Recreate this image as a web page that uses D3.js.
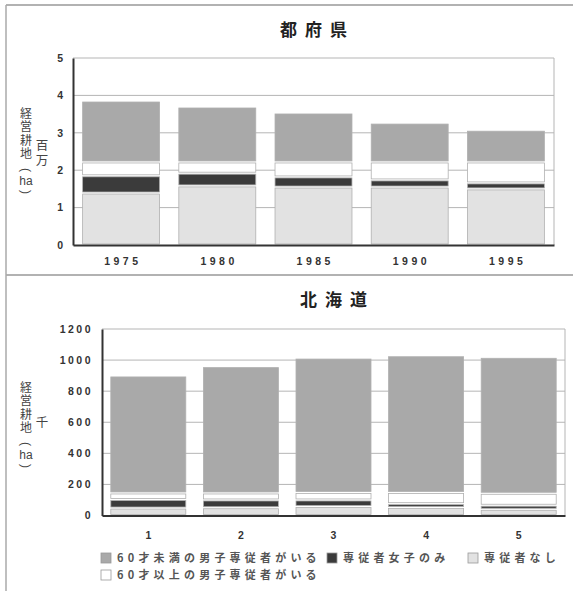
<!DOCTYPE html>
<html>
<head>
<meta charset="utf-8">
<script src="https://cdn.jsdelivr.net/npm/d3@7"></script>
<style>
  body { margin: 0; background: #fff; }
  svg { display: block; font-family: "Noto Sans CJK JP", "Liberation Sans", sans-serif; }
  .vert { writing-mode: vertical-rl; }
</style>
</head>
<body>
<svg width="573" height="591"></svg>
<script>
// categories
const years = ['1975', '1980', '1985', '1990', '1995'];
const hkCats = ['1', '2', '3', '4', '5'];

// 都府県 (百万ha), stacked bottom -> top
const tfNone = [1.39, 1.58, 1.55, 1.55, 1.50];
const tfFemale = [0.46, 0.34, 0.27, 0.19, 0.16];
const tfOver60 = [0.37, 0.30, 0.40, 0.48, 0.56];
const tfUnder60 = [1.63, 1.47, 1.31, 1.04, 0.85];

// 北海道 (千ha)
const hkNone = [48, 50, 58, 51, 40];
const hkFemale = [55, 50, 42, 25, 26];
const hkOver60 = [42, 45, 48, 72, 77];
const hkUnder60 = [753, 813, 865, 880, 875];

const tfTicks = [0, 1, 2, 3, 4, 5];
const hkTicks = [0, 200, 400, 600, 800, 1000, 1200];

const keys = ['none', 'female', 'over60', 'under60'];
const fills = { none: '#e2e2e2', female: '#3b3b3b', over60: '#ffffff', under60: '#a9a9a9' };
const legendItems = [
  { key: 'under60', label: '60才未満の男子専従者がいる' },
  { key: 'female', label: '専従者女子のみ' },
  { key: 'none', label: '専従者なし' },
  { key: 'over60', label: '60才以上の男子専従者がいる' }
];

const svg = d3.select('svg');
const ink = '#333';

// frame lines
svg.append('line').attr('x1', 6).attr('x2', 573).attr('y1', 5).attr('y2', 5).attr('stroke', '#999').attr('stroke-width', 1.5);
svg.append('line').attr('x1', 6).attr('x2', 573).attr('y1', 275).attr('y2', 275).attr('stroke', '#999').attr('stroke-width', 1.5);
svg.append('line').attr('x1', 6).attr('x2', 6).attr('y1', 5).attr('y2', 591).attr('stroke', '#aaa').attr('stroke-width', 1.5);

function rows(cats, a, b, c, d) {
  return cats.map((cat, i) => ({ cat, none: a[i], female: b[i], over60: c[i], under60: d[i] }));
}

function panel(opt) {
  const x = d3.scaleBand().domain(opt.cats).range([opt.x0, opt.x1]).paddingInner(opt.pad).paddingOuter(opt.pad / 2);
  const y = d3.scaleLinear().domain(opt.domain).range([opt.y0, opt.y1]);
  const g = svg.append('g');

  // gridlines + frame
  g.selectAll('.grid').data(opt.ticks.slice(1)).join('line')
    .attr('x1', opt.x0).attr('x2', opt.x1)
    .attr('y1', d => y(d)).attr('y2', d => y(d))
    .attr('stroke', '#b5b5b5').attr('stroke-width', 1);
  g.append('line').attr('x1', opt.x1).attr('x2', opt.x1).attr('y1', opt.y1).attr('y2', opt.y0)
    .attr('stroke', '#b5b5b5');

  // stacked bars
  const stack = d3.stack().keys(keys)(opt.data);
  g.selectAll('.layer').data(stack).join('g')
    .attr('fill', d => fills[d.key])
    .selectAll('rect').data(d => d).join('rect')
    .attr('x', d => x(d.data.cat))
    .attr('width', x.bandwidth())
    .attr('y', d => y(d[1]) + 1)
    .attr('height', d => Math.max(0.5, y(d[0]) - y(d[1]) - 2))
    .attr('stroke', '#b0b0b0').attr('stroke-width', 0.8);

  // axes
  const ya = d3.axisLeft(y).tickValues(opt.ticks).tickFormat(d3.format('d')).tickSize(0).tickPadding(opt.tickPad);
  const yg = g.append('g').attr('transform', `translate(${opt.x0},0)`).call(ya);
  yg.select('.domain').attr('stroke', ink).attr('stroke-width', 2);
  yg.selectAll('text').attr('fill', ink).attr('font-size', 10.5).attr('font-weight', 'bold')
    .attr('letter-spacing', opt.tickSpacing).attr('font-family', 'Liberation Sans, sans-serif');

  const xa = d3.axisBottom(x).tickSize(0).tickPadding(opt.xPad);
  const xg = g.append('g').attr('transform', `translate(0,${opt.y0})`).call(xa);
  xg.select('.domain').attr('stroke', ink).attr('stroke-width', 2);
  xg.selectAll('text').attr('fill', ink).attr('font-size', 10.5).attr('font-weight', 'bold')
    .attr('letter-spacing', 3.5).attr('font-family', 'Liberation Sans, sans-serif')
    .attr('dx', 1.75);

  // title
  g.append('text').attr('x', (opt.x0 + opt.x1) / 2 + 4).attr('y', opt.titleY)
    .attr('text-anchor', 'middle').attr('font-size', 17).attr('font-weight', 'bold')
    .attr('letter-spacing', 8).attr('fill', '#222').text(opt.title);

  // vertical y label
  const lab = g.append('g').attr('fill', '#444');
  lab.append('text').attr('class', 'vert').attr('x', 26).attr('y', opt.labY)
    .attr('font-size', 12).attr('letter-spacing', 1.5).text('経営耕地');
  lab.append('text').attr('class', 'vert').attr('x', 42).attr('y', opt.unitY)
    .attr('font-size', 12.5).attr('letter-spacing', 2.5).text(opt.unit);
  const py = opt.labY + 63;
  lab.append('text').attr('transform', `translate(26,${py}) rotate(90)`)
    .attr('text-anchor', 'middle').attr('dy', '0.35em')
    .attr('font-family', 'Liberation Sans, sans-serif').attr('font-size', 12).text('(');
  lab.append('text').attr('x', 26).attr('y', py + 15).attr('text-anchor', 'middle')
    .attr('font-family', 'Liberation Sans, sans-serif').attr('font-size', 12).text('ha');
  lab.append('text').attr('transform', `translate(26,${py + 22}) rotate(90)`)
    .attr('text-anchor', 'middle').attr('dy', '0.35em')
    .attr('font-family', 'Liberation Sans, sans-serif').attr('font-size', 12).text(')');
}

panel({
  cats: years, data: rows(years, tfNone, tfFemale, tfOver60, tfUnder60),
  domain: [0, 5], ticks: tfTicks,
  x0: 73, x1: 554, y0: 245, y1: 58, pad: 0.2,
  tickPad: 10, tickSpacing: 0, xPad: 13,
  title: '都府県', titleY: 36, unit: '百万', unitY: 139, labY: 107
});

panel({
  cats: hkCats, data: rows(hkCats, hkNone, hkFemale, hkOver60, hkUnder60),
  domain: [0, 1200], ticks: hkTicks,
  x0: 102, x1: 565, y0: 515.5, y1: 329, pad: 0.19,
  tickPad: 9, tickSpacing: 2.5, xPad: 16,
  title: '北海道', titleY: 306, unit: '千', unitY: 416, labY: 381
});

// legend
const legendPos = [
  { x: 101, y: 558 }, { x: 327, y: 558 }, { x: 468, y: 558 }, { x: 101, y: 575 }
];
const lg = svg.append('g');
legendItems.forEach((d, i) => {
  const p = legendPos[i];
  lg.append('rect').attr('x', p.x).attr('y', p.y - 5).attr('width', 10).attr('height', 10)
    .attr('fill', fills[d.key]).attr('stroke', '#999').attr('stroke-width', 0.8);
  lg.append('text').attr('x', p.x + 16).attr('y', p.y + 4).attr('font-size', 11).attr('font-weight', 'bold')
    .attr('letter-spacing', 4.2).attr('fill', '#555').text(d.label);
});
</script>
</body>
</html>
